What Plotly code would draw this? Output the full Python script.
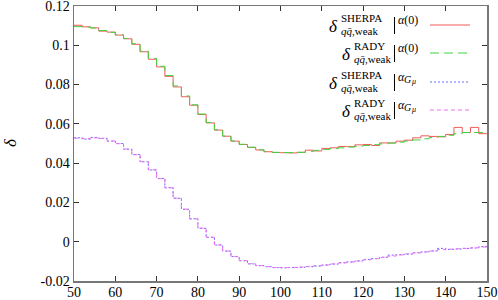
import plotly.graph_objects as go

# ---------------- data ----------------
bin_edges = list(range(50, 151, 2))  # 2 GeV bins, 50..150

sherpa_alpha0 = [0.1102, 0.1094, 0.1089, 0.1072, 0.1067, 0.1052, 0.1033, 0.1005, 0.0967, 0.0929,
                 0.0890, 0.0842, 0.0788, 0.0738, 0.0695, 0.0648, 0.0605, 0.0568, 0.0537, 0.0512,
                 0.0495, 0.0480, 0.0467, 0.0458, 0.0454, 0.0453, 0.0452, 0.0455, 0.0466, 0.0462,
                 0.0475, 0.0478, 0.0485, 0.0484, 0.0493, 0.0495, 0.0490, 0.0503, 0.0503, 0.0512,
                 0.0517, 0.0529, 0.0539, 0.0536, 0.0534, 0.0546, 0.0582, 0.0556, 0.0582, 0.0550]

rady_alpha0 = [0.1095, 0.1093, 0.1088, 0.1075, 0.1066, 0.1053, 0.1035, 0.1008, 0.0970, 0.0933,
               0.0893, 0.0846, 0.0793, 0.0742, 0.0697, 0.0650, 0.0607, 0.0570, 0.0538, 0.0513,
               0.0496, 0.0481, 0.0468, 0.0459, 0.0455, 0.0454, 0.0454, 0.0455, 0.0460, 0.0465,
               0.0470, 0.0474, 0.0478, 0.0482, 0.0486, 0.0490, 0.0494, 0.0498, 0.0502, 0.0507,
               0.0512, 0.0518, 0.0524, 0.0530, 0.0536, 0.0542, 0.0550, 0.0556, 0.0556, 0.0556]

sherpa_gmu = [0.0529, 0.0522, 0.0531, 0.0526, 0.0512, 0.0500, 0.0471, 0.0444, 0.0407, 0.0365,
              0.0322, 0.0275, 0.0221, 0.0165, 0.0117, 0.0068, 0.0022, -0.0017, -0.0048, -0.0076,
              -0.0097, -0.0113, -0.0122, -0.0127, -0.0132, -0.0133, -0.0131, -0.0130, -0.0127, -0.0124,
              -0.0119, -0.0114, -0.0107, -0.0103, -0.0098, -0.0090, -0.0086, -0.0079, -0.0068, -0.0066,
              -0.0063, -0.0056, -0.0052, -0.0047, -0.0034, -0.0039, -0.0037, -0.0034, -0.0032, -0.0025]

rady_gmu = [0.0527, 0.0525, 0.0529, 0.0526, 0.0513, 0.0499, 0.0472, 0.0443, 0.0408, 0.0366,
            0.0321, 0.0274, 0.0222, 0.0166, 0.0116, 0.0069, 0.0023, -0.0016, -0.0047, -0.0075,
            -0.0096, -0.0112, -0.0121, -0.0127, -0.0131, -0.0132, -0.0131, -0.0129, -0.0126, -0.0122,
            -0.0118, -0.0113, -0.0108, -0.0103, -0.0098, -0.0092, -0.0086, -0.0080, -0.0073, -0.0067,
            -0.0062, -0.0057, -0.0052, -0.0047, -0.0040, -0.0038, -0.0036, -0.0034, -0.0031, -0.0027]

x_ticks = [50, 60, 70, 80, 90, 100, 110, 120, 130, 140, 150]
y_ticks = [-0.02, 0, 0.02, 0.04, 0.06, 0.08, 0.1, 0.12]
y_ticklabels = ["-0.02", "0", "0.02", "0.04", "0.06", "0.08", "0.1", "0.12"]

series = [
    # (values, super label, exponent kind, color, dash)
    (sherpa_alpha0, "SHERPA", "a0", "#f25a5a", "solid"),
    (rady_alpha0, "RADY", "a0", "#3fd43f", "9px,5px"),
    (sherpa_gmu, "SHERPA", "gmu", "#6a6aff", "2px,2px"),
    (rady_gmu, "RADY", "gmu", "#f070f0", "4px,3px"),
]

# ---------------- figure ----------------
W, H = 498, 300
ML, MR, MT, MB = 74, 11, 6, 19
PW, PH = W - ML - MR, H - MT - MB
FONT = "Liberation Serif"


def px2paper(px):
    return (px - ML) / PW


def py2paper(py):
    return (H - MB - py) / PH


fig = go.Figure()
for vals, _, _, col, dash in series:
    assert len(vals) == len(bin_edges) - 1
    fig.add_trace(go.Scatter(
        x=bin_edges, y=vals + [vals[-1]], mode="lines", line_shape="hv",
        line=dict(color=col, width=1, dash=dash), showlegend=False, hoverinfo="skip"))

annotations = []
shapes = []


def ann(text, px, py, size, xanchor="left", angle=0):
    annotations.append(dict(
        text=text, x=px2paper(px), y=py2paper(py), xref="paper", yref="paper",
        xanchor=xanchor, yanchor="middle", showarrow=False, textangle=angle,
        borderpad=0, font=dict(family=FONT, size=size, color="black")))


row_y = [25, 53, 82, 110]
for (vals, sup, kind, col, dash), L in zip(series, row_y):
    x0 = 340 if sup == "SHERPA" else 353
    ann("<i>δ</i>", x0 - 1, L + 1.5, 17, xanchor="right")
    ann(sup, x0, L - 6.5, 11)
    ann("<i>qq̄</i>,weak", x0, L + 5.5, 11)
    shapes.append(dict(type="line", xref="paper", yref="paper",
                       x0=px2paper(394.5), x1=px2paper(394.5), y0=py2paper(L - 8), y1=py2paper(L + 9),
                       line=dict(color="black", width=1)))
    if kind == "a0":
        ann("<i>α</i>(0)", 396.5, L - 5, 12)
    else:
        ann("<i>α</i>", 396.5, L - 5, 12)
        ann("<i>G</i>", 403, L - 2.5, 10)
        ann("<i>μ</i>", 410, L - 0.5, 8)
    shapes.append(dict(type="line", xref="paper", yref="paper",
                       x0=px2paper(430), x1=px2paper(470), y0=py2paper(L), y1=py2paper(L),
                       line=dict(color=col, width=1.2, dash=dash)))

ann("<i>δ</i>", 10, 143, 17, xanchor="center", angle=-90)

axis_common = dict(showgrid=False, zeroline=False, showline=True, linecolor="#777777",
                   linewidth=1.5, mirror="allticks", ticks="inside", ticklen=5,
                   tickcolor="#333333", tickwidth=1, ticklabeloverflow="allow",
                   tickfont=dict(family=FONT, size=14, color="black"))

fig.update_layout(
    width=W, height=H, margin=dict(l=ML, r=MR, t=MT, b=MB, autoexpand=False),
    paper_bgcolor="white", plot_bgcolor="white",
    font=dict(family=FONT, color="black"),
    xaxis=dict(range=[50, 150], tickvals=x_ticks, ticktext=[str(t) for t in x_ticks],
               ticklabelstandoff=-2, automargin=False, **axis_common),
    yaxis=dict(range=[-0.02, 0.12], tickvals=y_ticks, ticktext=y_ticklabels,
               automargin=False, **axis_common),
    annotations=annotations, shapes=shapes, showlegend=False,
)

fig.write_html(
    "out.html",
    config={"displayModeBar": False, "staticPlot": True},
    post_script="document.body.style.margin='0';document.body.style.overflow='hidden';",
)
